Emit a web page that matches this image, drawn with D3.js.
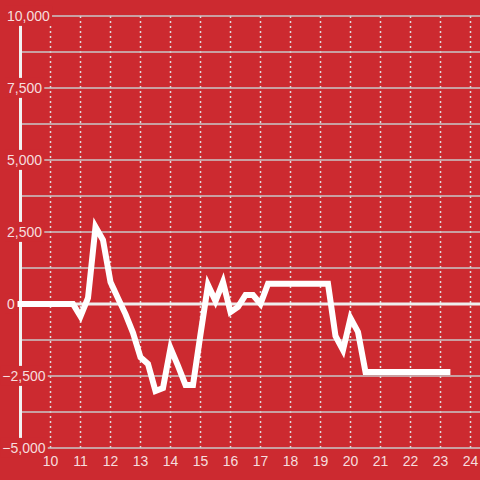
<!DOCTYPE html>
<html lang="en">
<head>
    <meta charset="UTF-8">
    <title>Balance</title>
    <style>
        body {
            margin: 0;
            background-color: #cc2a30;
        }

        text {
            font-family: "Liberation Sans", Arial, sans-serif;
            font-size: 14px;
            fill: #fff;
            fill-opacity: 0.85;
        }

        .hgrid line {
            stroke: #c8c8c8;
            stroke-width: 1.5px;
        }

        .vgrid line {
            stroke: #dddddd;
            stroke-width: 1.5px;
            stroke-dasharray: 2,3;
        }
    </style>
</head>
<body>
<svg id="svg" width="480" height="480"></svg>
<script src="https://d3js.org/d3.v7.min.js"></script>
<script>
    // hour of day (quarter hours) and the value at that time
    var hours = [8.9, 10.75, 11, 11.25, 11.5, 11.75, 12, 12.25, 12.5, 12.75, 13, 13.25, 13.5, 13.75,
        14, 14.25, 14.5, 14.75, 15, 15.25, 15.5, 15.75, 16, 16.25, 16.5, 16.75, 17, 17.25,
        19.25, 19.5, 19.75, 20, 20.25, 20.5, 23.33];
    var values = [0, 0, -430, 210, 2680, 2220, 760, 200, -350, -1000, -1850, -2080, -3020, -2920,
        -1530, -2150, -2810, -2810, -1050, 660, 100, 760, -280, -100, 310, 310, 0, 700,
        700, -1110, -1600, -490, -970, -2360, -2360];

    var xTicks = [10, 11, 12, 13, 14, 15, 16, 17, 18, 19, 20, 21, 22, 23, 24];
    var yGrid = [-5000, -3750, -2500, -1250, 0, 1250, 2500, 3750, 5000, 6250, 7500, 8750, 10000];
    var yLabels = [-5000, -2500, 0, 2500, 5000, 7500, 10000];

    var svg = d3.select("svg").style("background-color", "#cc2a30");
    var width = +svg.attr("width");

    var x = d3.scaleLinear().domain([9, 24]).range([20.5, 470.5]);
    var y = d3.scaleLinear().domain([-5000, 10000]).range([448, 16]);
    var fmt = d3.format(",");

    // dashed vertical grid
    svg.append("g").attr("class", "vgrid")
        .selectAll("line")
        .data(xTicks)
        .enter().append("line")
        .attr("x1", function(d) { return x(d); })
        .attr("x2", function(d) { return x(d); })
        .attr("y1", y(10000))
        .attr("y2", y(-5000));

    // horizontal grid
    svg.append("g").attr("class", "hgrid")
        .selectAll("line")
        .data(yGrid.filter(function(d) { return d !== 0; }))
        .enter().append("line")
        .attr("x1", 20)
        .attr("x2", width)
        .attr("y1", function(d) { return y(d); })
        .attr("y2", function(d) { return y(d); });

    // zero line
    svg.append("line")
        .attr("x1", 20).attr("x2", width)
        .attr("y1", y(0)).attr("y2", y(0))
        .attr("stroke", "#eeeeee")
        .attr("stroke-width", 3);

    // y axis line
    svg.append("line")
        .attr("x1", 20.5).attr("x2", 20.5)
        .attr("y1", y(10000)).attr("y2", y(-5000))
        .attr("stroke", "#f2f2f2")
        .attr("stroke-width", 3);

    // data line
    var line = d3.line()
        .x(function(d, i) { return x(hours[i]); })
        .y(function(d) { return y(d); });

    svg.append("path")
        .datum(values)
        .attr("d", line)
        .attr("fill", "none")
        .attr("stroke", "#ffffff")
        .attr("stroke-width", 6)
        .attr("stroke-linejoin", "miter");

    // y labels with red box behind them
    var ylab = svg.append("g").selectAll("g")
        .data(yLabels)
        .enter().append("g");

    ylab.append("text")
        .attr("x", function(d) { return d < 0 ? 2.3 : 7; })
        .attr("y", function(d) { return y(d); })
        .attr("dy", "0.35em")
        .text(function(d) { return fmt(d); });

    ylab.each(function() {
        var g = d3.select(this);
        var box = g.select("text").node().getBBox();
        g.insert("rect", "text")
            .attr("x", box.x - 2)
            .attr("y", box.y - 2)
            .attr("width", box.width + 4)
            .attr("height", box.height + 4)
            .attr("fill", "#cc2a30");
    });

    // x labels
    svg.append("g").selectAll("text")
        .data(xTicks)
        .enter().append("text")
        .attr("x", function(d) { return x(d); })
        .attr("y", 466)
        .attr("text-anchor", "middle")
        .text(function(d) { return d; });
</script>
</body>
</html>
